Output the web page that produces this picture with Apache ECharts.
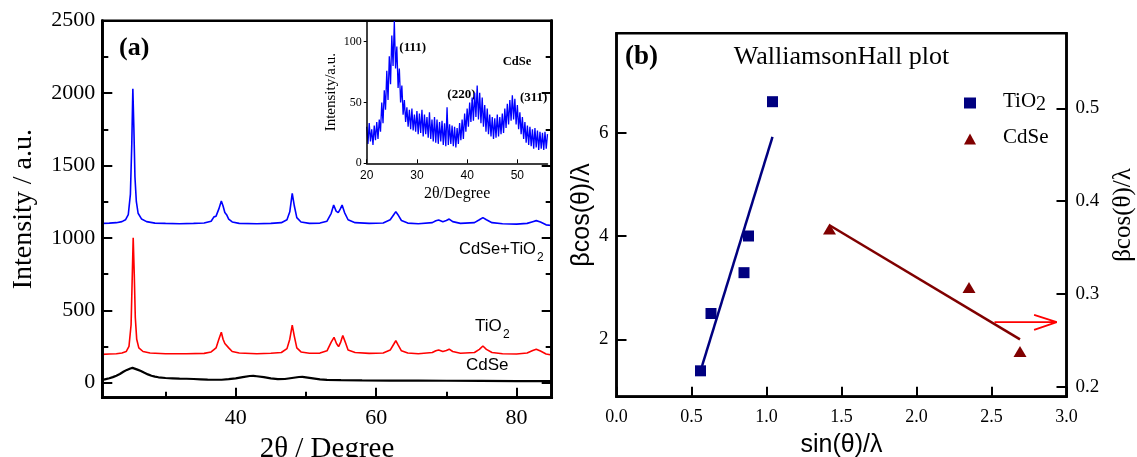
<!DOCTYPE html>
<html lang="en">
<head>
<meta charset="UTF-8" />
<title>XRD and Williamson-Hall plot</title>
<script src="https://cdn.jsdelivr.net/npm/echarts@6.0.0/dist/echarts.min.js"></script>
<style>body{margin:0;background:#fff}</style>
</head>
<body>
<div id="main" style="width:1137px;height:457px"></div>
<script type="text/javascript">
const serif = "'Liberation Serif', 'Times New Roman', serif";
const sans = "'Liberation Sans', Arial, sans-serif";

// (a) XRD patterns, [2theta, intensity]
const cdseTio2Pts = [[21,1100],[22,1102],[23,1105],[23.8,1112],[24.3,1125],[24.7,1160],[25.0,1300],[25.2,1650],[25.35,2030],[25.5,1750],[25.65,1420],[25.85,1250],[26.1,1170],[26.6,1130],[27.3,1112],[28.5,1102],[30,1100],[32,1098],[34,1100],[35.5,1103],[36.5,1115],[36.9,1145],[37.2,1150],[37.6,1200],[37.95,1255],[38.2,1220],[38.45,1175],[38.7,1160],[39,1130],[39.5,1110],[40.5,1100],[43,1098],[45,1100],[46.5,1105],[47.3,1125],[47.7,1180],[48.05,1308],[48.35,1220],[48.7,1140],[49.3,1110],[50.5,1100],[52,1102],[53,1115],[53.6,1170],[53.95,1227],[54.3,1185],[54.6,1174],[54.9,1200],[55.15,1227],[55.5,1175],[56,1125],[57,1105],[59,1100],[61,1103],[62,1125],[62.5,1160],[62.8,1181],[63.1,1160],[63.6,1120],[64.5,1102],[66,1098],[68,1105],[68.5,1118],[68.9,1124],[69.5,1112],[70.0,1120],[70.4,1130],[70.9,1112],[72,1100],[74,1105],[74.7,1125],[75.2,1140],[75.7,1125],[76.5,1105],[78,1098],[80,1095],[81.5,1100],[82.3,1112],[82.8,1119],[83.4,1110],[84.2,1090],[85,1085]];
const tio2Pts = [[21,195],[22,198],[23,200],[23.8,205],[24.4,215],[24.8,250],[25.1,400],[25.25,700],[25.4,1000],[25.55,750],[25.7,450],[25.9,300],[26.2,240],[26.8,215],[27.8,205],[30,200],[33,200],[35.5,202],[36.5,212],[36.9,228],[37.2,240],[37.6,300],[37.95,348],[38.2,300],[38.45,270],[38.7,272],[39,240],[39.5,215],[40.5,205],[43,200],[45,203],[46.5,208],[47.3,235],[47.7,300],[48.05,398],[48.35,320],[48.7,240],[49.3,212],[50.5,203],[52,204],[53,220],[53.6,280],[54.0,313],[54.35,270],[54.65,249],[54.95,280],[55.25,325],[55.6,280],[56,225],[57,208],[59,202],[61,205],[62,225],[62.5,265],[62.8,290],[63.1,262],[63.6,220],[64.5,205],[66,200],[68,208],[68.5,220],[68.9,226],[69.5,215],[70.0,222],[70.4,231],[70.9,215],[72,203],[74,208],[74.7,230],[75.2,253],[75.7,230],[76.5,208],[78,200],[80,198],[81.5,205],[82.3,222],[82.8,231],[83.4,218],[84.2,198],[85,191]];
const cdsePts = [[21,18],[21.5,24],[22,30],[22.5,38],[23,48],[23.5,60],[24,75],[24.5,88],[25,98],[25.3,102],[25.6,97],[26,90],[26.5,80],[27,68],[27.5,57],[28,48],[28.5,42],[29,37],[30,32],[31,30],[32,28],[33,27],[34,25],[35,23],[36,21],[37,20],[38,20],[39,24],[40,30],[41,38],[42,46],[42.5,47],[43,44],[44,38],[45,30],[46,24],[47,25],[48,32],[49,39],[49.5,40],[50,37],[51,30],[52,23],[53,19],[55,17],[58,15],[62,14],[66,14],[70,13],[75,12],[80,11],[85,10]];

// inset: CdSe alone, one reading every 0.25 deg from 20 deg
const insetStart = 20;
const insetStep = 0.25;
const insetCounts = [
  30,16,33,18,28,15,31,19,
  34,20,36,26,50,33,60,44,
  76,52,88,65,105,80,117,78,
  96,62,78,50,64,40,52,34,
  46,30,44,28,45,27,40,26,
  43,24,41,25,44,22,40,24,
  38,21,42,20,36,18,38,17,
  36,16,34,18,35,15,33,14,
  46,15,32,16,31,14,30,13,
  29,16,33,19,36,20,41,26,
  45,30,50,34,54,35,58,38,
  64,36,58,33,54,30,48,26,
  45,24,40,22,38,20,37,21,
  40,22,38,24,41,25,45,29,
  49,32,52,35,56,36,53,32,
  48,28,42,24,38,20,34,17,
  31,15,30,14,28,12,29,13,
  27,11,26,12,25,11,26,12,
  24
];

// (b) Williamson-Hall
const tio2X = [0.56, 0.63, 0.85, 0.88, 1.04];
const tio2Y = [1.39, 2.50, 3.29, 4.00, 6.60];
const tio2FitX = [0.57, 1.04];
const tio2FitY = [1.48, 5.92];
const cdseX = [1.42, 2.35, 2.69];
const cdseY = [0.370, 0.307, 0.238];
const cdseFitX = [1.42, 2.69];
const cdseFitY = [0.374, 0.251];
const arrowX = [2.52, 2.935, 2.784, 2.935, 2.784];
const arrowY = [0.2695, 0.2695, 0.2774, 0.2695, 0.2612];

// tick values
const aXMajor = [40, 60, 80];
const aXMinor = [30, 50, 70];
const aYMajor = [0, 500, 1000, 1500, 2000, 2500];
const aYMinor = [250, 750, 1250, 1750, 2250];
const insetXTicks = [20, 30, 40, 50];
const insetYTicks = [0, 50, 100];
const bXTicks = [0, 0.5, 1, 1.5, 2, 2.5, 3];
const bLeftTicks = [2, 4, 6];
const bRightTicks = [0.2, 0.3, 0.4, 0.5];

const pair = (xs, ys) => xs.map((x, i) => [x, ys[i]]);
const insetPts = insetCounts.map((v, i) => [insetStart + i * insetStep, v]);
const plain = v => String(v);

function tickAxis(extra) {
  return Object.assign({
    type: 'value',
    z: 5,
    axisLine: { show: true, onZero: false, lineStyle: { color: '#000', width: 2.5 } },
    splitLine: { show: false },
    axisLabel: { show: false },
    axisTick: { show: false }
  }, extra);
}
const inTick = (vals, len) => ({ show: true, inside: true, length: len, customValues: vals, lineStyle: { color: '#000', width: 2 } });
const frame = { show: true, backgroundColor: 'rgba(0,0,0,0)', borderColor: '#000', borderWidth: 2.5, outerBoundsMode: 'none' };

let myChart = echarts.init(document.getElementById('main'));
myChart.setOption({
  animation: false,
  backgroundColor: '#fff',
  grid: [
    Object.assign({ left: 102.3, right: 585.3, top: 20.7, bottom: 59.3 }, frame),
    { left: 366.7, right: 589.5, top: 21, bottom: 293.7, show: false, outerBoundsMode: 'none' },
    Object.assign({ left: 616.5, right: 70.5, top: 33.3, bottom: 60.3 }, frame)
  ],
  xAxis: [
    tickAxis({ gridIndex: 0, position: 'bottom', min: 21, max: 85,
      axisTick: inTick(aXMajor, 10),
      axisLabel: { show: true, customValues: aXMajor, formatter: plain, fontFamily: serif, fontSize: 22, color: '#000', margin: 10 },
      name: '2\u03b8 / Degree', nameLocation: 'middle', nameGap: 28,
      nameTextStyle: { fontFamily: serif, fontSize: 29, color: '#000' } }),
    tickAxis({ gridIndex: 0, position: 'bottom', min: 21, max: 85, axisTick: inTick(aXMinor, 6) }),
    tickAxis({ gridIndex: 1, position: 'bottom', min: 20, max: 56,
      axisLine: { show: true, onZero: false, lineStyle: { color: '#000', width: 1.5 } },
      axisTick: { show: true, inside: true, length: 4, customValues: insetXTicks, lineStyle: { color: '#000', width: 1 } },
      axisLabel: { show: true, customValues: insetXTicks, formatter: plain, fontFamily: sans, fontSize: 12, color: '#000', margin: 6 },
      name: '2\u03b8/Degree', nameLocation: 'middle', nameGap: 22,
      nameTextStyle: { fontFamily: serif, fontSize: 16, color: '#000' } }),
    tickAxis({ gridIndex: 2, position: 'bottom', min: 0, max: 3,
      axisTick: inTick(bXTicks, 10),
      axisLabel: { show: true, customValues: bXTicks, fontFamily: serif, fontSize: 18, color: '#000', margin: 12,
        formatter: v => v.toFixed(1) },
      name: 'sin(\u03b8)/\u03bb', nameLocation: 'middle', nameGap: 36,
      nameTextStyle: { fontFamily: sans, fontSize: 25, color: '#000' } })
  ],
  yAxis: [
    tickAxis({ gridIndex: 0, position: 'left', min: -104, max: 2500,
      axisTick: inTick(aYMajor, 10),
      axisLabel: { show: true, customValues: aYMajor, formatter: plain, fontFamily: serif, fontSize: 22, color: '#000', margin: 7 },
      name: 'Intensity / a.u.', nameLocation: 'middle', nameGap: 65,
      nameTextStyle: { fontFamily: serif, fontSize: 28, color: '#000' } }),
    tickAxis({ gridIndex: 0, position: 'left', min: -104, max: 2500, axisTick: inTick(aYMinor, 6) }),
    tickAxis({ gridIndex: 0, position: 'right', min: -104, max: 2500, axisTick: inTick(aYMajor, 10) }),
    tickAxis({ gridIndex: 0, position: 'right', min: -104, max: 2500, axisTick: inTick(aYMinor, 6) }),
    tickAxis({ gridIndex: 1, position: 'left', min: 0, max: 117,
      axisLine: { show: true, onZero: false, lineStyle: { color: '#000', width: 1.5 } },
      axisTick: { show: true, inside: false, length: 3, customValues: insetYTicks, lineStyle: { color: '#000', width: 1 } },
      axisLabel: { show: true, customValues: insetYTicks, formatter: plain, fontFamily: serif, fontSize: 12, color: '#000', margin: 5 },
      name: 'Intensity/a.u.', nameLocation: 'middle', nameGap: 28,
      nameTextStyle: { fontFamily: serif, fontSize: 15, color: '#000' } }),
    tickAxis({ gridIndex: 2, position: 'left', min: 0.889, max: 7.924,
      axisTick: inTick(bLeftTicks, 10),
      axisLabel: { show: true, customValues: bLeftTicks, formatter: plain, fontFamily: serif, fontSize: 19, color: '#000', margin: 8 },
      name: '\u03b2cos(\u03b8)/\u03bb', nameLocation: 'middle', nameGap: 20,
      nameTextStyle: { fontFamily: sans, fontSize: 25, color: '#000' } }),
    tickAxis({ gridIndex: 2, position: 'right', min: 0.1892, max: 0.5808,
      axisTick: inTick(bRightTicks, 10),
      axisLabel: { show: true, customValues: bRightTicks, fontFamily: serif, fontSize: 19, color: '#000', margin: 9,
        formatter: v => v.toFixed(1) },
      name: '\u03b2cos(\u03b8)/\u03bb', nameLocation: 'middle', nameGap: 44,
      nameTextStyle: { fontFamily: serif, fontSize: 25, color: '#000' } })
  ],
  legend: {
    orient: 'vertical', left: 959, top: 81, itemWidth: 12, itemHeight: 11, itemGap: 12,
    selectedMode: false,
    data: [{ name: 'TiO2', icon: 'rect' }, { name: 'CdSe', icon: 'triangle' }],
    formatter: n => n === 'TiO2' ? '{t|TiO}{s|2}' : '{t|CdSe}',
    textStyle: {
      color: '#000', fontFamily: serif, fontSize: 21,
      rich: {
        t: { fontFamily: serif, fontSize: 21, color: '#000', padding: [0, 0, 0, 22], lineHeight: 24, verticalAlign: 'top' },
        s: { fontFamily: serif, fontSize: 20, color: '#000', lineHeight: 20, padding: [9, 0, 0, 0], verticalAlign: 'bottom' }
      }
    }
  },
  series: [
    { type: 'line', xAxisIndex: 0, yAxisIndex: 0, data: cdseTio2Pts, showSymbol: false, lineStyle: { color: '#0000ff', width: 1.6 } },
    { type: 'line', xAxisIndex: 0, yAxisIndex: 0, data: tio2Pts, showSymbol: false, lineStyle: { color: '#ff0000', width: 1.6 } },
    { type: 'line', xAxisIndex: 0, yAxisIndex: 0, data: cdsePts, showSymbol: false, lineStyle: { color: '#000', width: 2.2 } },
    { type: 'line', xAxisIndex: 2, yAxisIndex: 4, data: insetPts, showSymbol: false, lineStyle: { color: '#0000ff', width: 1.3 } },
    { type: 'line', xAxisIndex: 3, yAxisIndex: 5, data: pair(tio2FitX, tio2FitY), showSymbol: false, lineStyle: { color: '#000080', width: 2.5 } },
    { name: 'TiO2', type: 'scatter', xAxisIndex: 3, yAxisIndex: 5, data: pair(tio2X, tio2Y), symbol: 'rect', symbolSize: 11, itemStyle: { color: '#000080', opacity: 1 } },
    { type: 'line', xAxisIndex: 3, yAxisIndex: 6, data: pair(cdseFitX, cdseFitY), showSymbol: false, lineStyle: { color: '#800000', width: 2.5 } },
    { name: 'CdSe', type: 'scatter', xAxisIndex: 3, yAxisIndex: 6, data: pair(cdseX, cdseY), symbol: 'triangle', symbolSize: [13, 11], itemStyle: { color: '#800000', opacity: 1 } },
    { type: 'line', xAxisIndex: 3, yAxisIndex: 6, data: pair(arrowX, arrowY), showSymbol: false, lineStyle: { color: '#ff0000', width: 1.8 } }
  ],
  graphic: [
    { type: 'text', x: 119, y: 48, style: { text: '(a)', font: 'bold 26px ' + serif, fill: '#000', verticalAlign: 'middle' } },
    { type: 'text', x: 625, y: 57, style: { text: '(b)', font: 'bold 27px ' + serif, fill: '#000', verticalAlign: 'middle' } },
    { type: 'text', x: 841.5, y: 57, style: { text: 'WalliamsonHall plot', font: '26px ' + serif, fill: '#000', align: 'center', verticalAlign: 'middle' } },
    { type: 'text', x: 399.3, y: 48, style: { text: '(111)', font: 'bold 13px ' + serif, fill: '#000', verticalAlign: 'middle' } },
    { type: 'text', x: 502.7, y: 61.7, style: { text: 'CdSe', font: 'bold 12.5px ' + serif, fill: '#000', verticalAlign: 'middle' } },
    { type: 'text', x: 447.3, y: 95, style: { text: '(220)', font: 'bold 13px ' + serif, fill: '#000', verticalAlign: 'middle' } },
    { type: 'text', x: 520, y: 97.5, style: { text: '(311)', font: 'bold 13px ' + serif, fill: '#000', verticalAlign: 'middle' } },
    { type: 'text', x: 459, y: 249.5, style: { text: 'CdSe+TiO', font: '16.5px ' + sans, fill: '#000', verticalAlign: 'middle' } },
    { type: 'text', x: 537, y: 257.5, style: { text: '2', font: '12px ' + sans, fill: '#000', verticalAlign: 'middle' } },
    { type: 'text', x: 475, y: 326.5, style: { text: 'TiO', font: '17px ' + sans, fill: '#000', verticalAlign: 'middle' } },
    { type: 'text', x: 503, y: 334.5, style: { text: '2', font: '12px ' + sans, fill: '#000', verticalAlign: 'middle' } },
    { type: 'text', x: 466, y: 365, style: { text: 'CdSe', font: '17px ' + sans, fill: '#000', verticalAlign: 'middle' } }
  ]
});
</script>
</body>
</html>
